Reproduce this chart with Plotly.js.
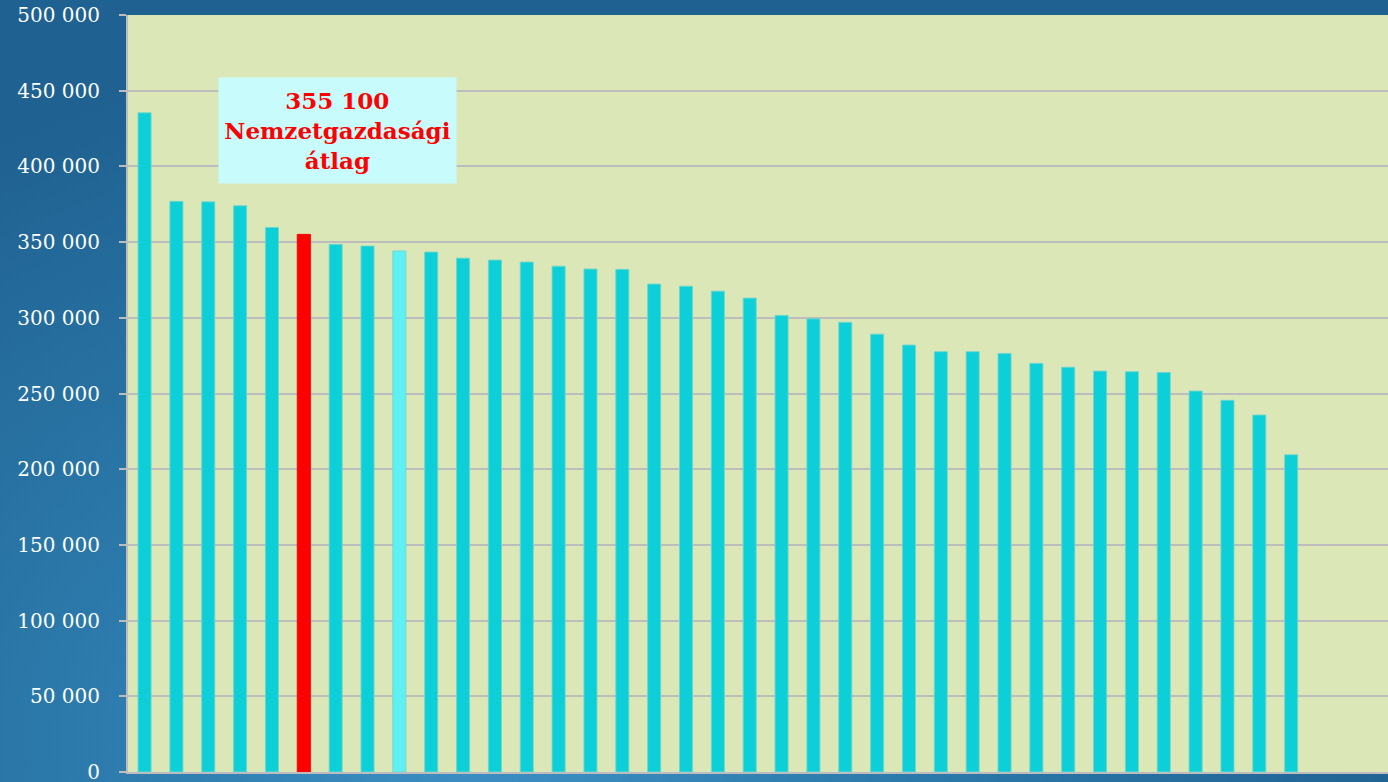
<!DOCTYPE html>
<html>
<head>
<meta charset="utf-8">
<script src="https://cdn.plot.ly/plotly-3.0.1.min.js"></script>
<style>
  html, body { margin: 0; padding: 0; }
  body {
    width: 1388px; height: 782px; overflow: hidden;
    background: radial-gradient(ellipse 70% 90% at 35% 95%, #3d8fc3 0%, #2b79aa 45%, #1f6190 100%);
  }
  #chart { width: 1388px; height: 782px; }
</style>
</head>
<body>
<div id="chart"></div>
<script>
// Data (average gross earnings by branch, HUF)
const categories = ['1','2','3','4','5','6','7','8','9','10','11','12','13','14','15','16','17','18','19',
  '20','21','22','23','24','25','26','27','28','29','30','31','32','33','34','35','36','37'];
const values = [435400, 376900, 376600, 374000, 359700, 355100, 348500, 347400, 344100, 343400,
  339400, 338100, 336800, 334100, 332200, 332000, 322300, 320900, 317600, 313000,
  301600, 299300, 297000, 289200, 282000, 277600, 277600, 276500, 269900, 267400,
  264800, 264400, 263900, 251600, 245500, 235800, 209500];
const averageIndex = 5;      // national economy average bar
const lightIndex = 8;        // lighter highlighted bar
const tickValues = [0, 50000, 100000, 150000, 200000, 250000, 300000, 350000, 400000, 450000, 500000];
const tickLabels = ['0', '50 000', '100 000', '150 000', '200 000', '250 000', '300 000', '350 000', '400 000', '450 000', '500 000'];
const annotationText = '355 100<br>Nemzetgazdasági<br>átlag';

const colors = values.map((v, i) => i === averageIndex ? '#ff0000' : (i === lightIndex ? '#5ff0f4' : '#0dcfd8'));
const lineColors = values.map((v, i) => i === averageIndex ? '#ff0000' : 'rgba(110,215,205,0.9)');

const trace = {
  type: 'bar',
  x: categories,
  y: values,
  marker: { color: colors, line: { color: lineColors, width: 1 } },
  hoverinfo: 'x+y'
};

const layout = {
  width: 1388, height: 782,
  margin: { l: 128, r: 0, t: 15, b: 10 },
  paper_bgcolor: 'rgba(0,0,0,0)',
  plot_bgcolor: '#dce7b8',
  bargap: 0.59,
  showlegend: false,
  xaxis: {
    type: 'category',
    range: [-0.52, 39.04],
    showticklabels: false,
    ticks: '',
    showgrid: false,
    showline: true, linecolor: '#bdbdbd', linewidth: 2,
    zeroline: false,
    fixedrange: true
  },
  yaxis: {
    range: [0, 500000],
    tickvals: tickValues,
    ticktext: tickLabels,
    ticks: 'outside', ticklen: 7, tickwidth: 2, tickcolor: '#bdbdbd',
    ticklabelstandoff: 15,
    ticklabeloverflow: 'allow',
    tickfont: { family: 'DejaVu Serif', size: 20, color: '#ffffff' },
    showgrid: true, gridcolor: '#bdbdbd', gridwidth: 2,
    showline: true, linecolor: '#bdbdbd', linewidth: 2,
    zeroline: false,
    fixedrange: true
  },
  annotations: [{
    xref: 'x', yref: 'y',
    x: 6.06, y: 423600,
    text: annotationText,
    showarrow: false,
    font: { family: 'DejaVu Serif', size: 23, color: '#ff0000', weight: 'bold' },
    bgcolor: '#c8fcfc',
    borderpad: 0,
    width: 237, height: 105,
    align: 'center', valign: 'middle'
  }]
};

Plotly.newPlot('chart', [trace], layout, { displayModeBar: false, staticPlot: true });
</script>
</body>
</html>
